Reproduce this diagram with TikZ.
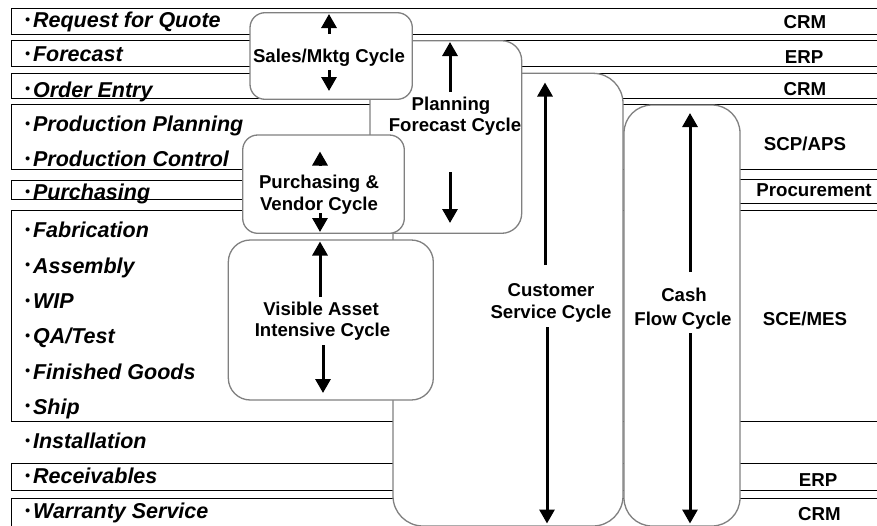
\documentclass[tikz,border=0pt]{standalone}
\usepackage{fontspec}
\setmainfont{Liberation Sans}
\usetikzlibrary{arrows.meta}
\newcommand\lblfont{\fontsize{21.5}{24}\selectfont\bfseries\itshape}
\newcommand\boxfont{\fontsize{18.6}{21.7}\selectfont\bfseries}
\newcommand\sysfont{\fontsize{18.7}{21}\selectfont\bfseries}
\newcommand\bul{\raisebox{3.5pt}{\fontsize{14}{14}\selectfont •}\kern3pt}
\tikzset{
  rowbox/.style={draw=black, line width=0.9pt, fill=white},
  cyc/.style={draw=black!50, line width=1.3pt, fill=white},
  lbl/.style={anchor=base west, inner sep=0pt, font=\lblfont},
  sys/.style={anchor=base, inner sep=0pt, font=\sysfont},
  ctext/.style={anchor=base, inner sep=0pt, font=\boxfont},
  flow/.style={line width=3pt, -{Triangle[width=15pt,length=14pt]}},
}
\begin{document}
\begin{tikzpicture}[x=1pt,y=-1pt]
\useasboundingbox (0,0) rectangle (877,525);
\fill[white] (0,0) rectangle (877,525);
\clip (0,0) rectangle (877,525);
% rows
\draw[rowbox] (11.7,8.3) rectangle (890,34.3);
\draw[rowbox] (11.7,40.7) rectangle (890,66.7);
\draw[rowbox] (11.7,73.3) rectangle (890,98.3);
\draw[rowbox] (11.7,104.3) rectangle (890,169.3);
\draw[rowbox] (11.7,180) rectangle (600,199.3);
\draw[rowbox] (700,179.3) rectangle (890,203.3);
\draw[rowbox] (11.7,210.7) rectangle (890,421.7);
\draw[rowbox] (11.7,463) rectangle (890,490.7);
\draw[rowbox] (11.7,498.3) rectangle (890,540);
% row labels
\node[lbl] (rfq) at (25,27.5) {\bul Request for Quote};
\node[lbl] (fc) at (25,61.5) {\bul Forecast};
\node[lbl] (oe) at (25,97) {\bul Order Entry};
\node[lbl] (pp) at (25,131.7) {\bul Production Planning};
\node[lbl] (pc) at (25,166.7) {\bul Production Control};
\node[lbl] (pu) at (25,199.5) {\bul Purchasing};
\node[lbl] (fa) at (25,237.5) {\bul Fabrication};
\node[lbl] (as) at (25,273) {\bul Assembly};
\node[lbl] (wip) at (25,308.5) {\bul WIP};
\node[lbl] (qa) at (25,343.5) {\bul QA/Test};
\node[lbl] (fg) at (25,379) {\bul Finished Goods};
\node[lbl] (sh) at (25,414) {\bul Ship};
\node[lbl] (in) at (25,448.5) {\bul Installation};
\node[lbl] (re) at (25,483.5) {\bul Receivables};
\node[lbl] (ws) at (25,518.5) {\bul Warranty Service};
% system labels
\node[sys] (s1) at (805,28.3) {CRM};
\node[sys] (s2) at (804,63) {ERP};
\node[sys] (s3) at (805,95) {CRM};
\node[sys] (s4) at (805,150) {SCP/APS};
\node[sys] (s5) at (814,196.5) {Procurement};
\node[sys] (s6) at (805,325) {SCE/MES};
\node[sys] (s7) at (818,486.5) {ERP};
\node[sys] (s8) at (819.5,520) {CRM};
% cycle boxes
\draw[cyc, rounded corners=30pt] (393,73.3) rectangle (623,526);
\draw[cyc, rounded corners=28pt] (624,105) rectangle (740,526);
\draw[cyc, rounded corners=20pt] (370,40.7) rectangle (521.7,233.3);
\draw[cyc, rounded corners=15pt] (250,12.7) rectangle (412.3,99.3);
\draw[cyc, rounded corners=15pt] (242.7,135) rectangle (404.3,233.3);
\draw[cyc, rounded corners=22pt] (228.3,240) rectangle (433.3,400);
% cycle texts
\node[ctext] (smc) at (329,62) {Sales/Mktg Cycle};
\node[ctext] (pl1) at (451,110) {Planning};
\node[ctext] (pl2) at (455,131.7) {Forecast Cycle};
\node[ctext] (pv1) at (319,188.3) {Purchasing \&};
\node[ctext] (pv2) at (319,210) {Vendor Cycle};
\node[ctext] (va1) at (321,315) {Visible Asset};
\node[ctext] (va2) at (322.5,336.7) {Intensive Cycle};
\node[ctext] (cs1) at (551,296.7) {Customer};
\node[ctext] (cs2) at (551,318.3) {Service Cycle};
\node[ctext] (cf1) at (684,301.7) {Cash};
\node[ctext] (cf2) at (683,325) {Flow Cycle};
% arrow ends
\coordinate (sa1) at (329,34); \coordinate (sa2) at (329,14);
\coordinate (sb1) at (329,70); \coordinate (sb2) at (329,91);
\coordinate (pa1) at (450,92); \coordinate (pa2) at (450,42);
\coordinate (pb1) at (450,172); \coordinate (pb2) at (450,223);
\coordinate (ua1) at (320,166); \coordinate (ua2) at (320,151.5);
\coordinate (ub1) at (320,213); \coordinate (ub2) at (320,232);
\coordinate (va1a) at (320,297); \coordinate (va1b) at (320,241.5);
\coordinate (vb1) at (323,345); \coordinate (vb2) at (323,393);
\coordinate (ca1) at (545,265); \coordinate (ca2) at (545,82.5);
\coordinate (cb1) at (547,327); \coordinate (cb2) at (547,523.5);
\coordinate (fa1) at (690,272); \coordinate (fa2) at (690,113);
\coordinate (fb1) at (690,333); \coordinate (fb2) at (690,523.5);
\draw[flow] (sa1) -- (sa2);
\draw[flow] (sb1) -- (sb2);
\draw[flow] (pa1) -- (pa2);
\draw[flow] (pb1) -- (pb2);
\draw[flow] (ua1) -- (ua2);
\draw[flow] (ub1) -- (ub2);
\draw[flow] (va1a) -- (va1b);
\draw[flow] (vb1) -- (vb2);
\draw[flow] (ca1) -- (ca2);
\draw[flow] (cb1) -- (cb2);
\draw[flow] (fa1) -- (fa2);
\draw[flow] (fb1) -- (fb2);
\end{tikzpicture}
\end{document}
